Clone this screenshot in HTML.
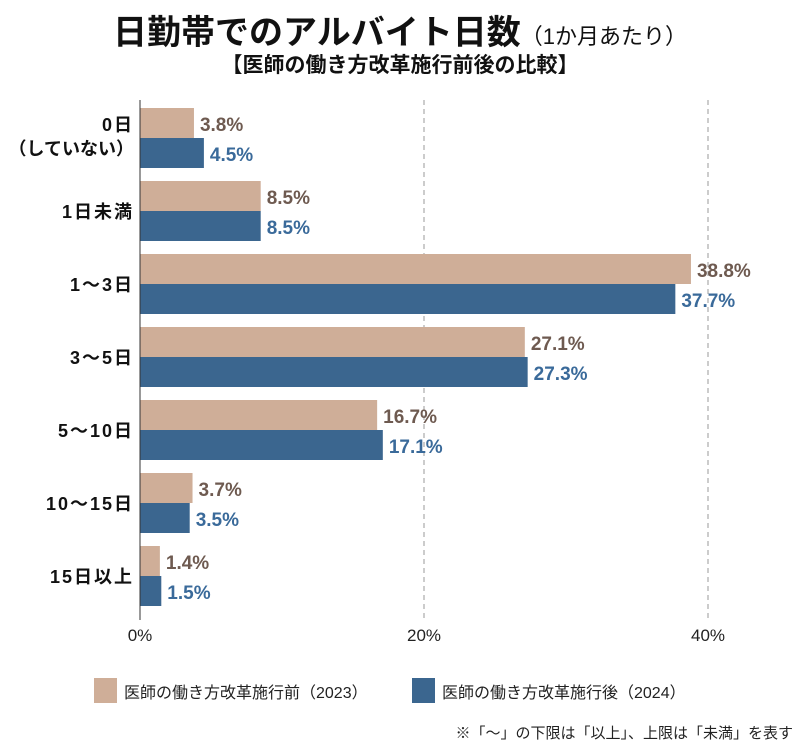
<!DOCTYPE html>
<html><head><meta charset="utf-8"><style>
body{margin:0;background:#fff;width:800px;height:748px;overflow:hidden;font-family:"Liberation Sans","Noto Sans CJK JP",sans-serif}
svg text{font-family:"Liberation Sans","Noto Sans CJK JP",sans-serif}
</style></head><body>
<svg id="c" width="800" height="748" xmlns="http://www.w3.org/2000/svg">
<text x="400" y="44" text-anchor="middle" font-size="34" font-weight="bold" fill="#111">日勤帯でのアルバイト日数<tspan font-size="22" font-weight="normal">（1か月あたり）</tspan></text>
<text x="400" y="72" text-anchor="middle" font-size="21" font-weight="bold" fill="#111">【医師の働き方改革施行前後の比較】</text>
<g id="grid"></g><g id="bars"></g>
<line x1="140" y1="100" x2="140" y2="620" stroke="#333" stroke-width="1"/>
<rect x="94" y="678" width="23" height="25" fill="#cfae98"/>
<text x="124" y="698" font-size="16" fill="#222">医師の働き方改革施行前（2023）</text>
<rect x="412" y="678" width="23" height="25" fill="#3b668f"/>
<text x="442" y="698" font-size="16" fill="#222">医師の働き方改革施行後（2024）</text>
<text x="793" y="738" text-anchor="end" font-size="15" fill="#222">※「〜」の下限は「以上」、上限は「未満」を表す</text>
</svg>
<script>
const categories=["0日|（していない）","1日未満","1〜3日","3〜5日","5〜10日","10〜15日","15日以上"];
const before2023=[3.8,8.5,38.8,27.1,16.7,3.7,1.4];
const after2024=[4.5,8.5,37.7,27.3,17.1,3.5,1.5];
const ticks=[0,20,40];
const NS="http://www.w3.org/2000/svg";
const x0=140,pxPer=14.2,rowTop=108,rowStep=73,bh=30;
const xs=v=>x0+v*pxPer;
function el(t,a,p){const e=document.createElementNS(NS,t);for(const k in a)e.setAttribute(k,a[k]);p.appendChild(e);return e;}
const g=document.getElementById('grid'),b=document.getElementById('bars');
ticks.forEach(t=>{
 if(t>0){const l=el('line',{x1:xs(t),x2:xs(t),y1:100,y2:620,stroke:'#999','stroke-dasharray':'5,4','stroke-width':1},g);
 
 }
 const tx=el('text',{x:xs(t),y:641,'text-anchor':'middle','font-size':17,fill:'#222'},g);tx.textContent=t+'%';
 
 
});
categories.forEach((c,i)=>{
 const y=rowTop+i*rowStep;
 const r1=el('rect',{x:x0,y:y,width:before2023[i]*pxPer,height:bh,fill:'#cfae98'},b);
 
 
 const r2=el('rect',{x:x0,y:y+bh,width:after2024[i]*pxPer,height:bh,fill:'#3b668f'},b);
 
 
 const l1=el('text',{x:xs(before2023[i])+6,y:y+23,'font-size':19,'font-weight':'bold',fill:'#6e5a50'},b);l1.textContent=before2023[i].toFixed(1)+'%';
 
 
 const l2=el('text',{x:xs(after2024[i])+6,y:y+bh+23,'font-size':19,'font-weight':'bold',fill:'#3a6a9a'},b);l2.textContent=after2024[i].toFixed(1)+'%';
 
 
 const parts=c.split('|');
 parts.forEach((p,j)=>{
  const yy=parts.length>1?y+23+j*24:y+bh+7;
  const t=el('text',{x:134,y:yy,'text-anchor':'end','font-size':18,'font-weight':'bold',fill:'#111','letter-spacing':parts.length>1&&j==1?0:2},b);t.textContent=p;
  
  
 });
});
</script>
</body></html>
